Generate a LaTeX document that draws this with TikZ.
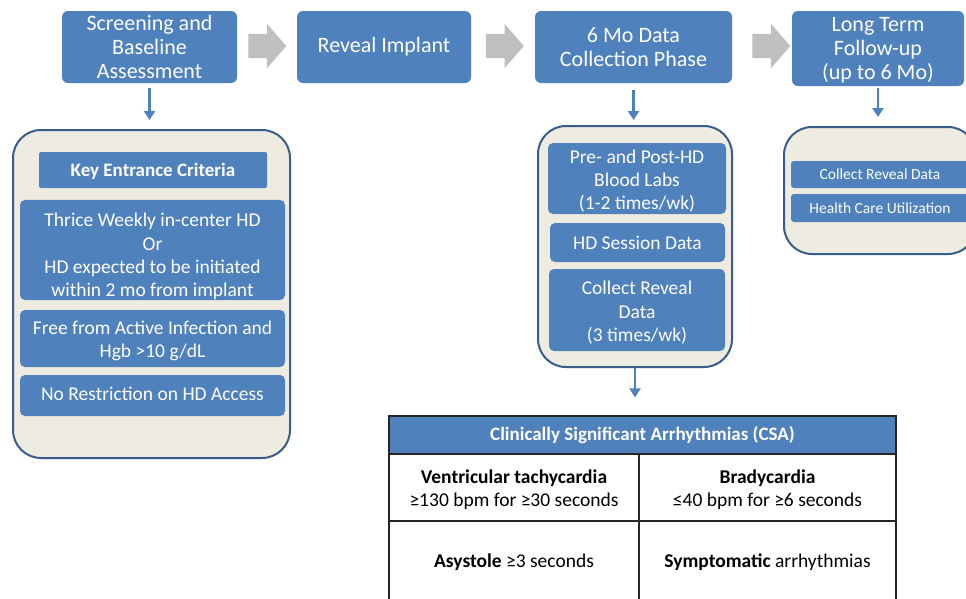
\documentclass[tikz,border=0pt]{standalone}
\usepackage{fontspec}
\setmainfont{Carlito}
\usepackage{xcolor}
\usetikzlibrary{arrows.meta, positioning, shapes.arrows}

\definecolor{boxblue}{HTML}{4F81BD}
\definecolor{panelfill}{HTML}{EEECE1}
\definecolor{panelline}{HTML}{385D8A}
\definecolor{flowgray}{HTML}{BFBFBF}

\begin{document}
\begin{tikzpicture}[
  x=1pt, y=-1pt,
  stage/.style={rectangle, fill=boxblue, rounded corners=6pt, text=white,
    align=center, inner sep=0pt, font=\fontsize{22}{24}\selectfont},
  item/.style={rectangle, fill=boxblue, rounded corners=5pt, text=white,
    align=center, inner sep=0pt, font=\fontsize{19.5}{23.3}\selectfont},
  smallitem/.style={item, rounded corners=3pt, font=\fontsize{15.5}{18}\selectfont},
  panel/.style={rectangle, fill=panelfill, draw=panelline, line width=2pt,
    rounded corners=28pt, inner sep=0pt},
  flow/.style={single arrow, fill=flowgray, inner sep=12pt,
    single arrow head extend=10pt, single arrow tip angle=98,
    minimum height=38pt, anchor=center},
  down/.style={-{Triangle[width=11pt, length=9pt]}, line width=2.5pt, draw=boxblue},
  cell/.style={rectangle, draw=black!85, line width=1.3pt, align=center,
    inner sep=0pt, font=\fontsize{19.5}{23}\selectfont},
  head/.style={cell, fill=boxblue, text=white, font=\bfseries\fontsize{19}{22}\selectfont}
]
\clip (0,0) rectangle (966,598);
\fill[white] (0,0) rectangle (966,598);

% top row
\node[stage, minimum width=175pt, minimum height=72pt] (screen) at (149.5,47)
  {Screening and\\Baseline\\Assessment};
\node[stage, minimum width=174pt, minimum height=72pt] (implant) at (384,47)
  {Reveal Implant};
\node[stage, minimum width=197pt, minimum height=72pt] (collect) at (633.5,47)
  {6 Mo Data\\Collection Phase};
\node[stage, minimum width=172pt, minimum height=75pt, text depth=1pt] (followup) at (878,48.5)
  {Long Term\\Follow-up\\(up to 6 Mo)};

\node[flow] (f1) at (262,46) {};
\node[flow] (f2) at (499.5,46) {};
\node[flow] (f3) at (766,46) {};

% entrance criteria
\node[panel, minimum width=277pt, minimum height=328pt] (crit) at (151.5,294) {};
\node[item, font=\bfseries\fontsize{19}{22}\selectfont, rounded corners=2pt, text depth=-4pt,
  minimum width=228pt, minimum height=36pt] (key) at (153,170) {Key Entrance Criteria};
\node[item, minimum width=265pt, minimum height=100pt] (thrice) at (152.5,250)
  {\rule{0pt}{27pt}Thrice Weekly in-center HD\\Or\\HD expected to be initiated\\within 2 mo from implant};
\node[item, minimum width=265pt, minimum height=57pt] (free) at (152.5,338.5)
  {\rule{0pt}{18pt}Free from Active Infection and\\Hgb >10 g/dL};
\node[item, minimum width=265pt, minimum height=41pt, text depth=4pt] (access) at (152.5,395.5)
  {No Restriction on HD Access};

% data collection
\node[panel, minimum width=194pt, minimum height=241pt] (phase) at (635,246.5) {};
\node[item, minimum width=178pt, minimum height=71pt] (labs) at (637,178.5)
  {\rule{0pt}{19pt}Pre- and Post-HD\\Blood Labs\\(1-2 times/wk)};
\node[item, minimum width=175pt, minimum height=39pt] (session) at (637.5,242.5)
  {HD Session Data};
\node[item, minimum width=176pt, minimum height=82pt] (reveal) at (637,310)
  {\rule{0pt}{19pt}Collect Reveal\\Data\\(3 times/wk)};

% long term
\node[panel, minimum width=192pt, minimum height=127pt] (longterm) at (880,190.5) {};
\node[smallitem, minimum width=178pt, minimum height=27pt, text depth=-1pt] (ltreveal) at (880,174.5)
  {Collect Reveal Data};
\node[smallitem, minimum width=178pt, minimum height=28pt] (ltcare) at (880,208)
  {Health Care Utilization};

% CSA table
\node[head, minimum width=507pt, minimum height=38pt] (csa) at (642.5,435)
  {Clinically Significant Arrhythmias (CSA)};
\node[cell, minimum width=250pt, minimum height=67pt] (vt) at (514,487.5)
  {\rule{0pt}{18pt}\textbf{Ventricular tachycardia}\\≥130 bpm for ≥30 seconds};
\node[cell, minimum width=257pt, minimum height=67pt] (brady) at (767.5,487.5)
  {\rule{0pt}{18pt}\textbf{Bradycardia}\\≤40 bpm for ≥6 seconds};
\node[cell, minimum width=250pt, minimum height=83pt] (asys) at (514,562.5)
  {\textbf{Asystole} ≥3 seconds};
\node[cell, minimum width=257pt, minimum height=83pt] (sympt) at (767.5,562.5)
  {\textbf{Symptomatic} arrhythmias};

% connectors
\draw[down, shorten <=5pt, shorten >=9pt] (screen.south) -- (screen.south |- crit.north);
\draw[down, shorten <=7pt, shorten >=5pt] (collect.south) -- (collect.south |- phase.north);
\draw[down, shorten <=2pt, shorten >=9pt] (followup.south) -- (followup.south |- longterm.north);
\draw[down, shorten >=18pt] (phase.south) -- (phase.south |- csa.north);
\end{tikzpicture}
\end{document}
